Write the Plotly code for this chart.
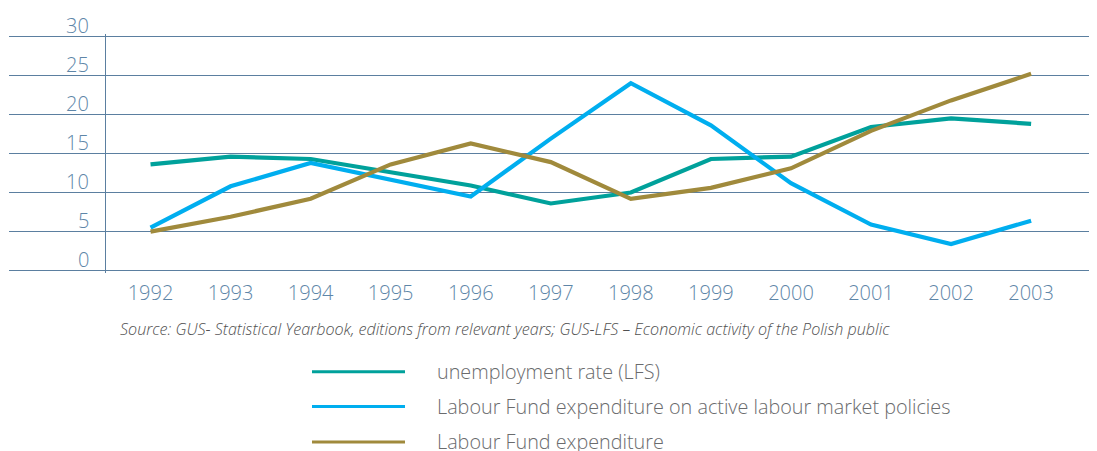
import plotly.graph_objects as go

# ---- data ----
years = list(range(1992, 2004))
unemployment = [13.6, 14.6, 14.3, 12.6, 10.9, 8.6, 10.0, 14.3, 14.6, 18.4, 19.5, 18.8]
active_policies = [5.5, 10.8, 13.8, 11.7, 9.5, 16.9, 24.0, 18.6, 11.2, 5.9, 3.4, 6.4]
labour_fund = [5.0, 6.9, 9.2, 13.6, 16.3, 13.9, 9.2, 10.6, 13.1, 17.9, 21.8, 25.2]
y_tick_values = [0, 5, 10, 15, 20, 25, 30]
series_names = ["unemployment rate (LFS)",
                "Labour Fund expenditure on active labour market policies",
                "Labour Fund expenditure"]
source_text = ("Source: GUS- Statistical Yearbook, editions from relevant years; "
               "GUS-LFS \u2013 Economic activity of the Polish public")

# ---- styles ----
colors = ["#00A19B", "#00AEEF", "#A08A3C"]
grid_color = "#5B7FA0"
tick_color = "#5E86A8"
text_gray = "#6A6B6D"
OFF = 8  # default page body margin
PAGE_W, PAGE_H = 1097, 451
W, H = PAGE_W - OFF, PAGE_H - OFF
ML, MR, MT, MB = 1, 0, 25.65, 177.65
plot_w = W - ML - MR
plot_h = H - MT - MB
x_range = [1990.232, 2003.823]
y_range = [-0.3, 30.3]


def paper_x(px):
    return (px - OFF - ML) / plot_w


def paper_y(py):
    return (PAGE_H - MB - py) / plot_h


fig = go.Figure()
for name, vals, col in zip(series_names, [unemployment, active_policies, labour_fund], colors):
    fig.add_trace(go.Scatter(x=years, y=vals, mode="lines", name=name,
                             line=dict(color=col, width=4.2), showlegend=False))

# y tick labels (placed above the gridlines, right aligned)
x_label = x_range[0] + (91 - OFF - ML) / plot_w * (x_range[1] - x_range[0])
for v in y_tick_values:
    fig.add_annotation(x=x_label, y=v, xref="x", yref="y", text=str(v),
                       showarrow=False, xanchor="right", yanchor="middle", yshift=11,
                       font=dict(family="Open Sans", size=20, color=tick_color, weight=300))

# source note
fig.add_annotation(x=paper_x(118), y=paper_y(330), xref="paper", yref="paper",
                   text="<i>" + source_text + "</i>", showarrow=False,
                   xanchor="left", yanchor="middle",
                   font=dict(family="Open Sans", size=16.1, color="#505050", weight=300))

# manual legend
legend_y = [372.3, 407.3, 442.8]
for name, col, ly in zip(series_names, colors, legend_y):
    fig.add_shape(type="line", xref="paper", yref="paper",
                  x0=paper_x(312), x1=paper_x(405), y0=paper_y(ly), y1=paper_y(ly),
                  line=dict(color=col, width=3))
    fig.add_annotation(x=paper_x(435), y=paper_y(ly), xref="paper", yref="paper",
                       text=name, showarrow=False, xanchor="left", yanchor="middle",
                       font=dict(family="Open Sans", size=19.8, color=text_gray, weight=300))

fig.update_layout(
    width=W, height=H,
    margin=dict(l=ML, r=MR, t=MT, b=MB, pad=0),
    paper_bgcolor="white", plot_bgcolor="white",
    showlegend=False,
    xaxis=dict(range=x_range, showgrid=False, zeroline=False, showline=False,
               tickmode="array", tickvals=years, ticktext=[str(y) for y in years],
               ticks="", ticklabelstandoff=6,
               tickfont=dict(family="Open Sans", size=20, color=tick_color, weight=300)),
    yaxis=dict(range=y_range, tickmode="array", tickvals=y_tick_values,
               showticklabels=False, ticks="", showgrid=True, gridcolor=grid_color,
               gridwidth=1.3, zeroline=False, showline=True, linecolor=grid_color,
               linewidth=1.3, anchor="free", position=paper_x(105)),
)

fig.write_html("out.html")
